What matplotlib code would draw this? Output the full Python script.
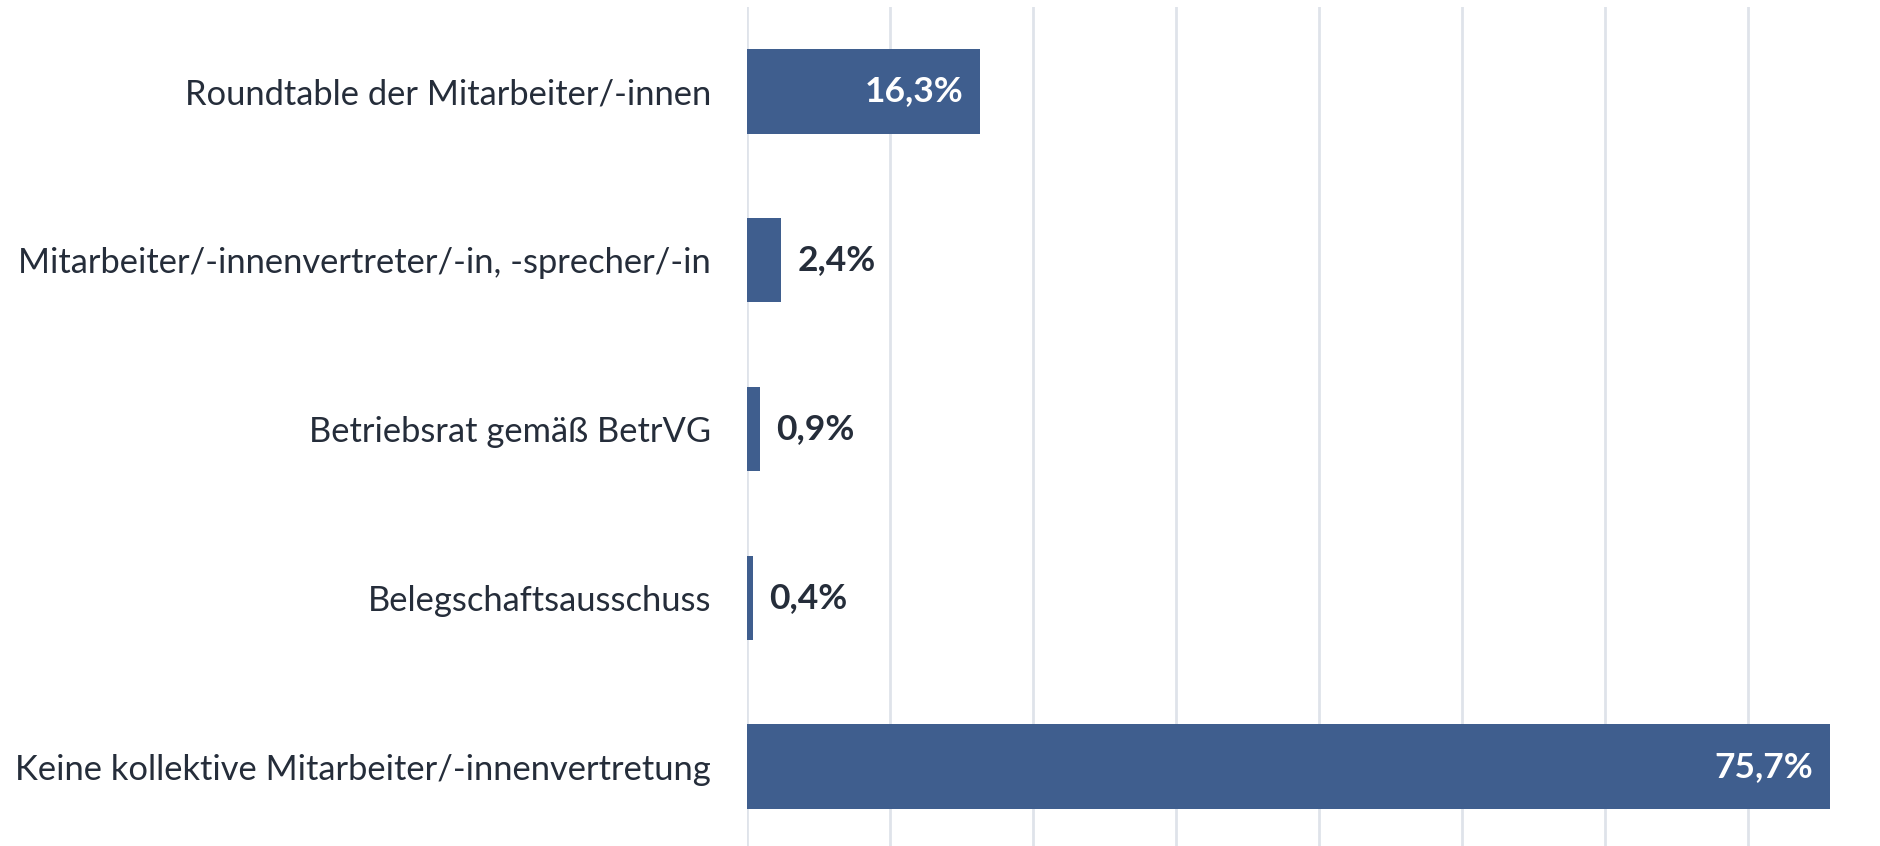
import numpy as np
from matplotlib import pyplot as plt

categories = [
    'Roundtable der Mitarbeiter/-innen',
    'Mitarbeiter/-innenvertreter/-in, -sprecher/-in',
    'Betriebsrat gemäß BetrVG',
    'Belegschaftsausschuss',
    'Keine kollektive Mitarbeiter/-innenvertretung',
]
values = [16.3, 2.4, 0.9, 0.4, 75.7]
labels = ['16,3%', '2,4%', '0,9%', '0,4%', '75,7%']

bar_color = '#3f5e8e'
text_color = '#252d3a'
grid_color = '#dfe3ea'

plt.rcParams['font.family'] = ['Lato', 'DejaVu Sans']

fig = plt.figure(figsize=(18.8, 8.46), dpi=100)
ax = fig.add_axes([747 / 1880, 1 - 851 / 846, 1144 / 1880, 844 / 846])

y = np.arange(len(categories))
bars = ax.barh(y, values, height=0.5, color=bar_color, zorder=3)

ax.set_xlim(0, 80)
ax.set_ylim(len(categories) - 0.5, -0.5)
ax.set_xticks(np.arange(0, 81, 10))
ax.xaxis.grid(True, color=grid_color, linewidth=2)
ax.tick_params(axis='x', length=0, labelbottom=False)
ax.tick_params(axis='y', length=0, pad=26, labelsize=24.8, labelcolor=text_color)
ax.set_yticks(y)
ax.set_yticklabels(categories)
for s in ax.spines.values():
    s.set_visible(False)

for b, v, lab in zip(bars, values, labels):
    yc = b.get_y() + b.get_height() / 2
    if v > 10:
        ax.annotate(lab, (v, yc), xytext=(-12, 0), textcoords='offset points',
                    ha='right', va='center', color='white',
                    fontsize=25.5, fontweight='bold', zorder=4)
    else:
        ax.annotate(lab, (v, yc), xytext=(12, 0), textcoords='offset points',
                    ha='left', va='center', color=text_color,
                    fontsize=25.5, fontweight='bold', zorder=4)

fig.savefig('out.png', dpi=100)
